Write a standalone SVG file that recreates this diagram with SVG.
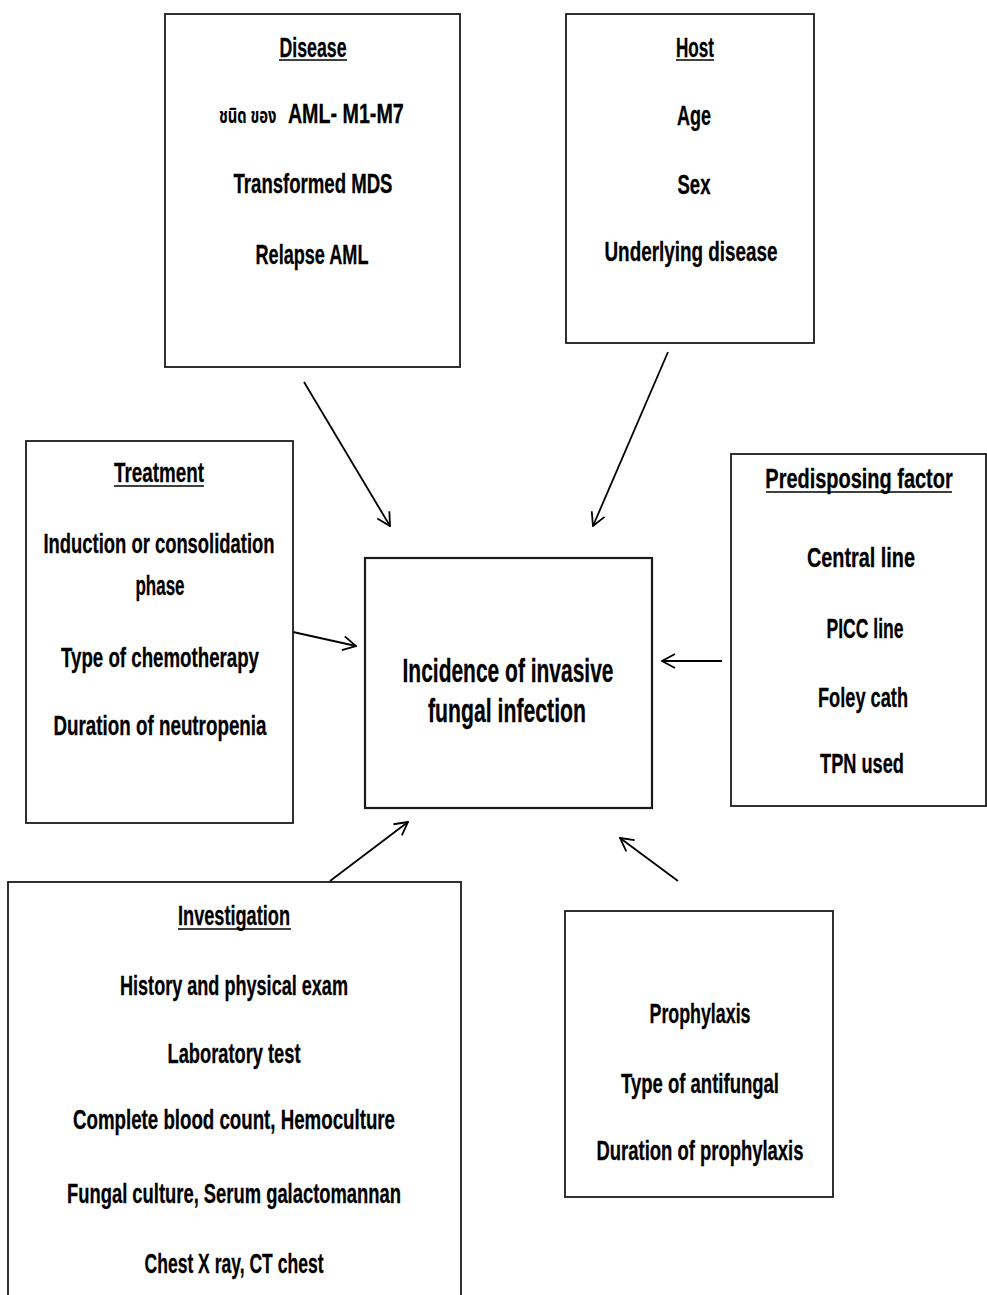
<svg xmlns="http://www.w3.org/2000/svg" width="987" height="1295" viewBox="0 0 987 1295">
<defs>
<style>
.box{fill:#fff;stroke:#1a1a1a;stroke-width:1.8}
.t{font-family:"Liberation Sans",Arial,sans-serif;font-weight:bold;font-size:28px;fill:#000;stroke:#000;stroke-width:0.3;text-anchor:middle}
.ts{font-family:"Liberation Sans",Arial,sans-serif;font-weight:bold;font-size:28px;fill:#000;stroke:#000;stroke-width:0.3;text-anchor:start}
.th{font-family:"Noto Sans Thai","Noto Sans","DejaVu Sans",sans-serif;font-weight:bold;font-size:21px;stroke:none}
.big{font-family:"Liberation Sans",Arial,sans-serif;font-weight:bold;font-size:34px;fill:#000;stroke:#000;stroke-width:0.3;text-anchor:middle}
.ul{stroke:#000;stroke-width:1.4}
.conn{stroke:#000;stroke-width:1.8;fill:none;marker-end:url(#arr)}
</style>
<marker id="arr" viewBox="0 0 16 16" refX="15" refY="8" markerWidth="16" markerHeight="16" markerUnits="userSpaceOnUse" orient="auto">
<path d="M2,1 L15,8 L2,15" fill="none" stroke="#000" stroke-width="1.8"/>
</marker>
</defs>
<rect width="987" height="1295" fill="#fff"/>

<g id="connectors">
<line class="conn" x1="304" y1="382" x2="390" y2="526"/>
<line class="conn" x1="668" y1="352" x2="593" y2="526"/>
<line class="conn" x1="293" y1="632" x2="356" y2="646"/>
<line class="conn" x1="722" y1="661" x2="662" y2="661"/>
<line class="conn" x1="330" y1="881" x2="408" y2="822"/>
<line class="conn" x1="678" y1="881" x2="620" y2="838"/>
</g>

<g id="disease">
<rect class="box" x="165" y="14" width="295" height="353"/>
<text class="t" x="313" y="57" textLength="67" lengthAdjust="spacingAndGlyphs">Disease</text>
<line class="ul" x1="279" y1="60" x2="347" y2="60"/>
<text class="ts" transform="translate(219,123) scale(0.703,1)"><tspan class="th">ชนิด ของ</tspan><tspan x="98">AML- M1-M7</tspan></text>
<text class="t" x="313" y="193" textLength="159" lengthAdjust="spacingAndGlyphs">Transformed MDS</text>
<text class="t" x="312" y="264" textLength="113" lengthAdjust="spacingAndGlyphs">Relapse AML</text>
</g>

<g id="host">
<rect class="box" x="566" y="14" width="248" height="329"/>
<text class="t" x="695" y="57" textLength="38" lengthAdjust="spacingAndGlyphs">Host</text>
<line class="ul" x1="676" y1="60" x2="714" y2="60"/>
<text class="t" x="694" y="125" textLength="34" lengthAdjust="spacingAndGlyphs">Age</text>
<text class="t" x="694" y="194" textLength="33" lengthAdjust="spacingAndGlyphs">Sex</text>
<text class="t" x="691" y="261" textLength="173" lengthAdjust="spacingAndGlyphs">Underlying disease</text>
</g>

<g id="treatment">
<rect class="box" x="26" y="441" width="267" height="382"/>
<text class="t" x="159" y="482" textLength="90" lengthAdjust="spacingAndGlyphs">Treatment</text>
<line class="ul" x1="114" y1="486" x2="204" y2="486"/>
<text class="t" x="159" y="553" textLength="231" lengthAdjust="spacingAndGlyphs">Induction or consolidation</text>
<text class="t" x="160" y="595" textLength="49" lengthAdjust="spacingAndGlyphs">phase</text>
<text class="t" x="160" y="667" textLength="198" lengthAdjust="spacingAndGlyphs">Type of chemotherapy</text>
<text class="t" x="160" y="735" textLength="213" lengthAdjust="spacingAndGlyphs">Duration of neutropenia</text>
</g>

<g id="predisposing">
<rect class="box" x="731" y="454" width="255" height="352"/>
<text class="t" transform="translate(859,488) scale(0.713,1)" x="0" y="0">Predisposing factor</text>
<line class="ul" x1="766" y1="492" x2="952" y2="492"/>
<text class="t" x="861" y="567" textLength="108" lengthAdjust="spacingAndGlyphs">Central line</text>
<text class="t" x="865" y="638" textLength="77" lengthAdjust="spacingAndGlyphs">PICC line</text>
<text class="t" x="863" y="707" textLength="90" lengthAdjust="spacingAndGlyphs">Foley cath</text>
<text class="t" x="862" y="773" textLength="84" lengthAdjust="spacingAndGlyphs">TPN used</text>
</g>

<g id="center">
<rect class="box" x="365" y="558" width="287" height="250" style="stroke-width:2.2"/>
<text class="big" x="508" y="682" textLength="211" lengthAdjust="spacingAndGlyphs">Incidence of invasive</text>
<text class="big" x="507" y="722" textLength="158" lengthAdjust="spacingAndGlyphs">fungal infection</text>
</g>

<g id="investigation">
<rect class="box" x="8" y="882" width="453" height="430"/>
<text class="t" x="234" y="925" textLength="112" lengthAdjust="spacingAndGlyphs">Investigation</text>
<line class="ul" x1="178" y1="929" x2="291" y2="929"/>
<text class="t" x="234" y="995" textLength="228" lengthAdjust="spacingAndGlyphs">History and physical exam</text>
<text class="t" x="234" y="1063" textLength="133" lengthAdjust="spacingAndGlyphs">Laboratory test</text>
<text class="t" x="234" y="1129" textLength="322" lengthAdjust="spacingAndGlyphs">Complete blood count, Hemoculture</text>
<text class="t" x="234" y="1203" textLength="334" lengthAdjust="spacingAndGlyphs">Fungal culture, Serum galactomannan</text>
<text class="t" x="234" y="1273" textLength="179" lengthAdjust="spacingAndGlyphs">Chest X ray, CT chest</text>
</g>

<g id="prophylaxis">
<rect class="box" x="565" y="911" width="268" height="286"/>
<text class="t" x="700" y="1023" textLength="101" lengthAdjust="spacingAndGlyphs">Prophylaxis</text>
<text class="t" x="700" y="1093" textLength="158" lengthAdjust="spacingAndGlyphs">Type of antifungal</text>
<text class="t" x="700" y="1160" textLength="207" lengthAdjust="spacingAndGlyphs">Duration of prophylaxis</text>
</g>
</svg>
